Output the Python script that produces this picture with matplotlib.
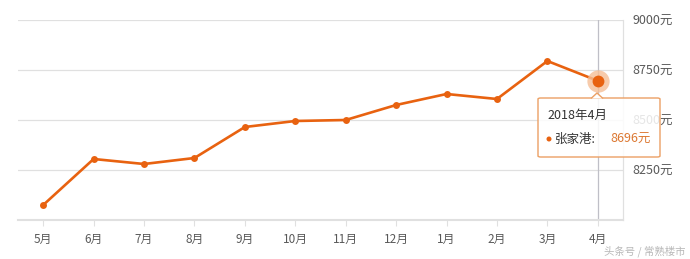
import matplotlib.pyplot as plt
import matplotlib.patches as mplpatches
import numpy as np

plt.rcParams['font.family'] = ['Noto Sans CJK SC', 'DejaVu Sans']

months = ['5月', '6月', '7月', '8月', '9月', '10月', '11月', '12月', '1月', '2月', '3月', '4月']
prices = [8075, 8305, 8280, 8310, 8465, 8495, 8500, 8575, 8630, 8605, 8795, 8696]
yTicks = [8250, 8500, 8750, 9000]
tipTitle = '2018年4月'
tipName = '张家港:'
tipValue = '8696元'

orange = (232/255, 98/255, 16/255)
grid = (0.88, 0.88, 0.88)
textGray = (0.35, 0.35, 0.35)

figureWidth = 6.9
figureHeight = 2.59
fig = plt.figure(figsize=(figureWidth, figureHeight), dpi=100)

# left, bottom, width, height (pixels -> fractions)
ax = plt.axes([18/690, 39/259, 605/690, 200/259])

x = np.arange(len(months))
ax.plot(x, prices, color=orange, linewidth=1.9, marker='o', markersize=5,
        markerfacecolor=orange, markeredgewidth=0, zorder=3)

# highlighted last point
ax.plot(x[-1], prices[-1], marker='o', markersize=16, color=(245/255, 190/255, 150/255),
        alpha=0.8, markeredgewidth=0, zorder=4)
ax.plot(x[-1], prices[-1], marker='o', markersize=8.5, color=orange,
        markeredgewidth=0, zorder=5)

# crosshair
ax.axvline(x[-1], color=(0.75, 0.75, 0.78), linewidth=0.9, zorder=1)

ax.set_xlim(-0.5, len(months) - 0.5)
ax.set_ylim(8000, 9000)

for t in yTicks:
    ax.axhline(t, color=grid, linewidth=0.9, zorder=0)

ax.set_xticks(x)
ax.set_xticklabels(months)
ax.set_yticks(yTicks)
ax.set_yticklabels([str(t) + '元' for t in yTicks])
ax.yaxis.tick_right()
ax.tick_params(axis='y', length=0, pad=7, labelsize=9, labelcolor=textGray)
ax.tick_params(axis='x', length=4, width=0.8, color=grid, pad=5, labelsize=8.5, labelcolor=textGray)

for side in ['top', 'left']:
    ax.spines[side].set_visible(False)
ax.spines['right'].set_color(grid)
ax.spines['right'].set_linewidth(0.9)
ax.spines['bottom'].set_color(grid)
ax.spines['bottom'].set_linewidth(1.5)

# tooltip box (figure pixel layout)
def px(xp, yp):
    return (xp/690, 1 - yp/259)

tipEdge = (236/255, 160/255, 100/255)
bx0, by0 = px(538, 157)
box = mplpatches.FancyBboxPatch((bx0, by0), 122/690, 59/259,
                                boxstyle='round,pad=0,rounding_size=0.004',
                                transform=fig.transFigure, facecolor=(1, 1, 1, 0.85),
                                edgecolor=tipEdge, linewidth=1.0, zorder=10)
fig.patches.append(box)
tri = mplpatches.Polygon([px(591, 98.5), px(597, 93), px(603, 98.5)], closed=False,
                         transform=fig.transFigure, facecolor='white',
                         edgecolor=tipEdge, linewidth=1.0, zorder=11)
fig.patches.append(tri)

tx, ty = px(547, 115)
fig.text(tx, ty, tipTitle, fontsize=9, color=(0.2, 0.2, 0.2), va='center', ha='left', zorder=12)
dx, dy = px(549, 139)
fig.patches.append(mplpatches.Ellipse((dx, dy), 5/690, 5/259, transform=fig.transFigure,
                                      facecolor=orange, edgecolor='none', zorder=12))
nx, ny = px(555, 139)
fig.text(nx, ny, tipName, fontsize=9, color=(0.2, 0.2, 0.2), va='center', ha='left', zorder=12)
vx, vy = px(651, 139)
fig.text(vx, vy, tipValue, fontsize=9, color=(220/255, 120/255, 50/255), va='center', ha='right', zorder=12)

# watermark
wx, wy = px(686, 251)
fig.text(wx, wy, '头条号 / 常熟楼市', fontsize=7.5, color=(0.72, 0.72, 0.72), va='center', ha='right')

plt.savefig('out.png', dpi=100)
